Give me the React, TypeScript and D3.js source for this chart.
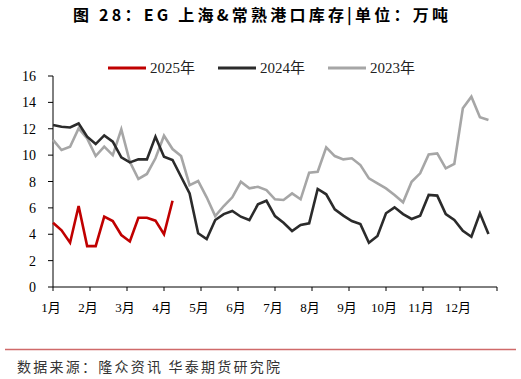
import React from "react";
import * as d3 from "d3";

const months = ["1月", "2月", "3月", "4月", "5月", "6月", "7月", "8月", "9月", "10月", "11月", "12月"];
const yTicks = [0, 2, 4, 6, 8, 10, 12, 14, 16];

const s2025 = [4.87, 4.3, 3.36, 6.14, 3.1, 3.1, 5.33, 5.0, 3.94, 3.45, 5.25, 5.25, 5.03, 4.0, 6.54];

const s2024 = [
  12.28, 12.15, 12.1, 12.4, 11.4, 10.84, 11.5, 11.02, 9.83, 9.45, 9.68, 9.68, 11.4,
  9.88, 9.63, 8.36, 7.1, 4.07, 3.63, 5.08, 5.53, 5.76, 5.33, 5.08, 6.27, 6.54,
  5.38, 4.87, 4.25, 4.7, 4.83, 7.43, 7.03, 5.89, 5.41, 5.0, 4.77, 3.36, 3.87,
  5.59, 6.04, 5.53, 5.16, 5.41, 6.98, 6.93, 5.53, 5.08, 4.27, 3.81, 5.59, 4.02,
];

const s2023 = [
  11.15, 10.39, 10.64, 12.03, 11.27, 9.93, 10.64, 10.0, 11.95, 9.5, 8.19, 8.57, 9.76,
  11.47, 10.46, 9.93, 7.73, 8.04, 6.8, 5.38, 6.14, 6.8, 7.98, 7.48, 7.6, 7.35,
  6.65, 6.6, 7.1, 6.65, 8.67, 8.74, 10.59, 9.93, 9.68, 9.76, 9.25, 8.24, 7.86,
  7.48, 6.98, 6.42, 7.98, 8.62, 10.05, 10.13, 9.0, 9.33, 13.55, 14.43, 12.87, 12.66,
];

const seriesNames = ["2025年", "2024年", "2023年"];
const seriesColors = ["#C00000", "#2B2B2B", "#A6A6A6"];

export default function App() {
  const W = 521;
  const H = 379;
  const x = d3.scaleLinear().domain([0, 52]).range([53, 497]);
  const y = d3.scaleLinear().domain([0, 16]).range([287, 76]);
  const line = d3
    .line<number>()
    .x((_, i) => x(i))
    .y((d) => y(d))
    .curve(d3.curveLinear);

  const data = [s2025, s2024, s2023];
  const legendX = [108, 218, 328];
  const monthTicks = d3.range(0, 13).map((m) => (m * 52) / 12);

  const serif = "'Liberation Serif', 'Times New Roman', 'Noto Sans CJK SC', serif";
  const sans = "'Noto Sans CJK SC', 'Noto Sans', sans-serif";

  return (
    <svg width={W} height={H} style={{ position: "absolute", left: 0, top: 0, background: "#fff" }}>
      <rect x={0} y={0} width={W} height={H} fill="#fff" />
      <text x={73} y={21} fontFamily={sans} fontWeight="bold" fontSize={16} fill="#000" textLength={375} lengthAdjust="spacing">
        图 28：EG 上海&amp;常熟港口库存|单位：万吨
      </text>

      {/* legend */}
      {seriesNames.map((n, i) => (
        <g key={n}>
          <line x1={legendX[i]} x2={legendX[i] + 38} y1={68} y2={68} stroke={seriesColors[i]} strokeWidth={3} />
          <text x={legendX[i] + 42} y={73} fontFamily={serif} fontSize={15} fill="#222">
            {n}
          </text>
        </g>
      ))}

      {/* y axis */}
      <line x1={x(0)} x2={x(0)} y1={y(16)} y2={y(0)} stroke="#000" strokeWidth={1} />
      {yTicks.map((t) => (
        <g key={t}>
          <line x1={x(0) - 5} x2={x(0)} y1={y(t)} y2={y(t)} stroke="#000" strokeWidth={1} />
          <text x={36} y={y(t) + 5} textAnchor="end" fontFamily={serif} fontSize={14} fill="#000">
            {t}
          </text>
        </g>
      ))}

      {/* x axis */}
      <line x1={x(0)} x2={x(52)} y1={y(0)} y2={y(0)} stroke="#000" strokeWidth={1} />
      {monthTicks.map((t, i) => (
        <line key={i} x1={x(t)} x2={x(t)} y1={y(0)} y2={y(0) + 4} stroke="#000" strokeWidth={1} />
      ))}
      {months.map((m, i) => (
        <text key={m} x={x(monthTicks[i]) - 2} y={312} textAnchor="middle" fontFamily={serif} fontSize={13} fill="#000">
          {m}
        </text>
      ))}

      {/* series */}
      {[2, 1, 0].map((k) => (
        <path key={k} d={line(data[k]) || ""} fill="none" stroke={seriesColors[k]} strokeWidth={2.6} strokeLinejoin="miter" />
      ))}

      {/* footer */}
      <line x1={5} x2={516} y1={349.5} y2={349.5} stroke="#D06A6A" strokeWidth={1.5} />
      <text x={17} y={372} fontFamily={sans} fontSize={14} fill="#333" textLength={263} lengthAdjust="spacing">
        数据来源：隆众资讯 华泰期货研究院
      </text>
    </svg>
  );
}
